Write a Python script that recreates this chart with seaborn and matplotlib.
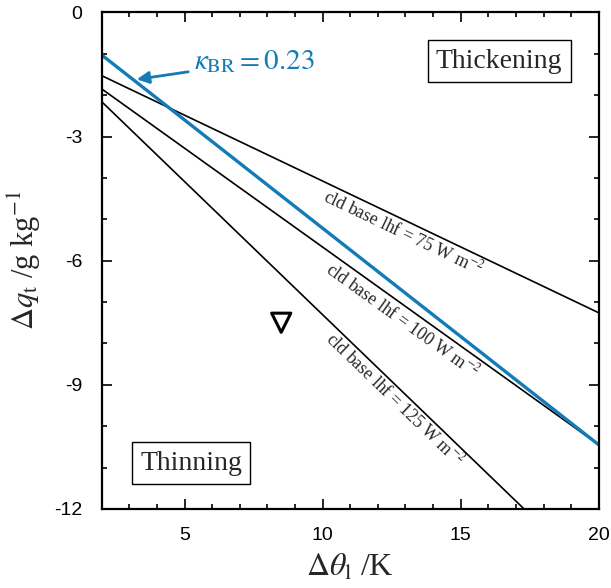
import numpy as np
import pandas as pd
import matplotlib
matplotlib.use("Agg")
import matplotlib.pyplot as plt
import seaborn as sns

# ---- data ----
x_ends = [2, 20]
lhf_labels = ["75", "100", "125"]
lhf_y_ends = [[-1.53, -7.26], [-1.85, -10.45], [-2.16, -13.74]]
kappa_y_ends = [-1.03, -10.45]
kappa_text = r"$\kappa_{\mathrm{BR}} = 0.23$"
obs_x = [8.5]
obs_y = [-7.5]
label_pos = [(12.94, -5.32), (12.90, -7.45), (12.61, -9.36)]
xticks = [5, 10, 15, 20]
yticks = [0, -3, -6, -9, -12]

sns.set_theme(style="ticks")
plt.rcParams["font.family"] = ["Liberation Serif", "DejaVu Serif"]
plt.rcParams["mathtext.fontset"] = "stix"
plt.rcParams["axes.unicode_minus"] = False

fig = plt.figure(figsize=(6.11, 5.88), dpi=100)
ax = fig.add_axes([0.1665, 0.1344, 0.8135, 0.8446])
ax.set_xlim(2, 20)
ax.set_ylim(-12, 0)

blue = "#127bb8"
rows = []
for lab, ys in zip(lhf_labels, lhf_y_ends):
    for xv, yv in zip(x_ends, ys):
        rows.append({"x": xv, "y": yv, "line": lab})
df = pd.DataFrame(rows)
sns.lineplot(data=df, x="x", y="y", units="line", estimator=None,
             color="black", lw=1.2, ax=ax, legend=False)
dk = pd.DataFrame({"x": x_ends, "y": kappa_y_ends})
sns.lineplot(data=dk, x="x", y="y", color=blue, lw=2.4, ax=ax, legend=False)
sns.scatterplot(x=obs_x, y=obs_y, marker="v", s=190, facecolor="none",
                edgecolor="black", linewidth=2.2, ax=ax, legend=False)

# rotated labels along the lines
for lab, ys, (tx, ty) in zip(lhf_labels, lhf_y_ends, label_pos):
    p0 = ax.transData.transform((x_ends[0], ys[0]))
    p1 = ax.transData.transform((x_ends[1], ys[1]))
    ang = np.degrees(np.arctan2(p1[1] - p0[1], p1[0] - p0[0]))
    ax.text(tx, ty, "cld base lhf = " + lab + r" W m$^{\mathrm{-2}}$",
            rotation=ang, rotation_mode="anchor", ha="center", va="center",
            fontsize=12.8)

ax.annotate(kappa_text, xy=(3.27, -1.62), xytext=(5.35, -1.2),
            color=blue, fontsize=21, va="center", ha="left",
            arrowprops=dict(arrowstyle="-|>", color=blue, lw=2,
                            mutation_scale=18, shrinkA=2, shrinkB=0))

box = dict(boxstyle="square,pad=0.3", fc="white", ec="black", lw=1.0)
ax.text(16.39, -1.18, "Thickening", fontsize=20, ha="center", va="center", bbox=box)
ax.text(5.24, -10.89, "Thinning", fontsize=20, ha="center", va="center", bbox=box)

ax.set_xticks(xticks)
ax.set_yticks(yticks)
ax.set_xticks(np.arange(2, 21, 1), minor=True)
ax.set_yticks(np.arange(-12, 1, 1), minor=True)
ax.tick_params(which="both", direction="in", top=True, right=True, width=1.2,
               colors="black")
ax.tick_params(which="major", length=7.5)
ax.tick_params(which="minor", length=3.5)
ax.tick_params(axis="x", which="major", pad=13)
ax.tick_params(axis="y", which="major", pad=14)
for t in ax.get_xticklabels() + ax.get_yticklabels():
    t.set_fontfamily("Liberation Sans")
    t.set_fontsize(14)
for s in ax.spines.values():
    s.set_linewidth(1.6)
    s.set_color("black")

ax.set_xlabel(r"$\Delta\theta_{\mathrm{l}}$ /K", fontsize=23, labelpad=6)
ax.set_ylabel(r"$\Delta q_{\mathrm{t}}$ /g kg$^{\mathrm{-1}}$", fontsize=22, labelpad=8)

fig.savefig("out.png", dpi=100)
